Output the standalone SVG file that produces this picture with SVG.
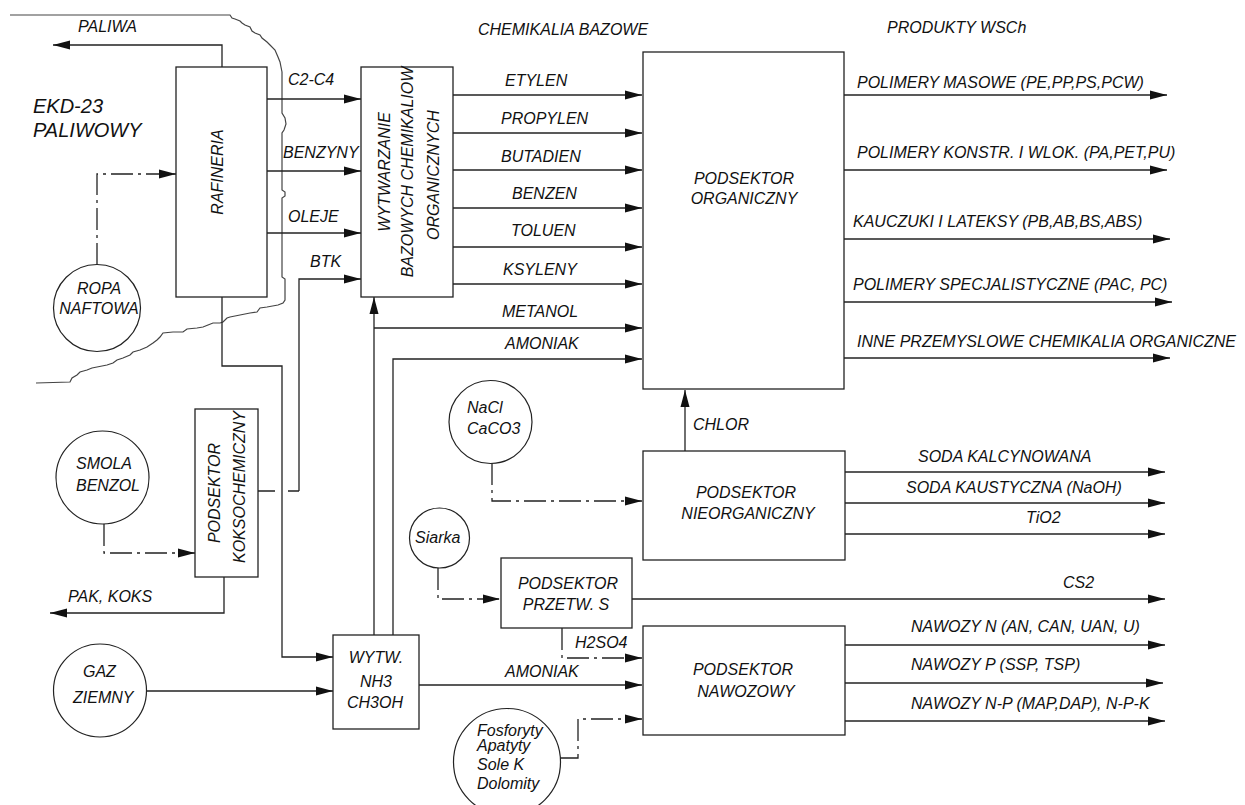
<svg xmlns="http://www.w3.org/2000/svg" width="1245" height="805" viewBox="0 0 1245 805">
<defs>
<marker id="ah" markerUnits="userSpaceOnUse" markerWidth="18" markerHeight="10" refX="17" refY="5" orient="auto"><path d="M0,0.5 L17,5 L0,9.5 z" fill="#111"/></marker>
<style>
.t{font-family:"Liberation Sans",Arial,sans-serif;font-style:italic;font-size:16px;fill:#111}
.big{font-size:20px}
.m{text-anchor:middle}
.box{fill:#fff;stroke:#222;stroke-width:1.3}
.c{fill:#fff;stroke:#222;stroke-width:1.2}
.ln{fill:none;stroke:#222;stroke-width:1.3}
.ar{marker-end:url(#ah)}
.dd{stroke-dasharray:22,5,3,5}
.bd{fill:none;stroke:#444;stroke-width:1.2}
</style>
</defs>
<rect width="1245" height="805" fill="#fff"/>

<g id="boundary">
<path class="bd" d="M10,15 H230 L232,18 235,19 240,21 242,23 245,25 250,27 252,31 255,33 260,35 262,38 267,42 270,45 275,50 278,57 280,62 281,67 282,72 282,113 285,118 286,124 284,130 282,133 282,190 285,192 285,196 282,198 282,277 285,279 285,300 283,303 278,305 267,307 260,308 257,312 250,313 240,315 230,317 227,318 223,322 220,323 213,323 208,325 203,327 197,328 187,329 183,332 173,332 163,333 160,337 157,340 153,343 147,347 140,350 133,352 130,355 123,358 117,360 113,363 107,365 97,367 92,368 87,370 80,372 77,375 72,378 70,382 36,383"/>
<text class="t big" x="33" y="113">EKD-23</text>
<text class="t big" x="33" y="137">PALIWOWY</text>
</g>

<g id="headers">
<text class="t" x="478" y="35">CHEMIKALIA BAZOWE</text>
<text class="t" x="887" y="33">PRODUKTY WSCh</text>
</g>

<g id="connectors">
<path class="ln ar" d="M222,67 V45 H53"/>
<path class="ln ar dd" d="M97,265 V174 H176"/>
<path class="ln ar" d="M267,99 H361"/>
<path class="ln ar" d="M267,171 H361"/>
<path class="ln ar" d="M267,233 H361"/>
<path class="ln" d="M258,491 H299" stroke-dasharray="17,13,12"/>
<path class="ln ar" d="M299,491 V279 H361"/>
<path class="ln ar" d="M222,297 V366 H282 V657 H333"/>
<path class="ln ar" d="M453,95 H642"/>
<path class="ln ar" d="M453,133 H642"/>
<path class="ln ar" d="M453,170 H642"/>
<path class="ln ar" d="M453,208 H642"/>
<path class="ln ar" d="M453,247 H642"/>
<path class="ln ar" d="M453,284 H642"/>
<path class="ln ar" d="M374,635 V297"/>
<path class="ln ar" d="M374,328 H642"/>
<path class="ln ar" d="M393,635 V359 H642"/>
<path class="ln ar" d="M844,95 H1167"/>
<path class="ln ar" d="M844,170 H1167"/>
<path class="ln ar" d="M844,239 H1170"/>
<path class="ln ar" d="M844,302 H1172"/>
<path class="ln ar" d="M844,358 H1170"/>
<path class="ln ar" d="M685,451 V390"/>
<path class="ln ar dd" d="M492,463 V501 H642"/>
<path class="ln ar" d="M845,472 H1165"/>
<path class="ln ar" d="M845,503 H1165"/>
<path class="ln ar" d="M845,534 H1165"/>
<path class="ln ar dd" d="M438,568 V599 H500"/>
<path class="ln ar" d="M632,599 H1165"/>
<path class="ln ar dd" d="M562,628 V658 H642"/>
<path class="ln ar" d="M419,685 H642"/>
<path class="ln ar dd" d="M560,758 H578 V719 H642"/>
<path class="ln ar" d="M845,645 H1165"/>
<path class="ln ar" d="M845,683 H1163"/>
<path class="ln ar" d="M845,721 H1165"/>
<path class="ln ar" d="M147,691 H333"/>
<path class="ln ar dd" d="M104,524 V553 H195"/>
<path class="ln ar" d="M224,577 V613 H50"/>
</g>

<g id="connector-labels">
<text class="t" x="78" y="32">PALIWA</text>
<text class="t" x="288" y="85">C2-C4</text>
<text class="t" x="283" y="158">BENZYNY</text>
<text class="t" x="288" y="222">OLEJE</text>
<text class="t" x="310" y="267">BTK</text>
<text class="t" x="505" y="86">ETYLEN</text>
<text class="t" x="501" y="124">PROPYLEN</text>
<text class="t" x="501" y="162">BUTADIEN</text>
<text class="t" x="512" y="199">BENZEN</text>
<text class="t" x="511" y="236">TOLUEN</text>
<text class="t" x="503" y="275">KSYLENY</text>
<text class="t" x="502" y="317">METANOL</text>
<text class="t" x="505" y="349">AMONIAK</text>
<text class="t" x="857" y="88">POLIMERY MASOWE (PE,PP,PS,PCW)</text>
<text class="t" x="857" y="158">POLIMERY KONSTR. I WLOK. (PA,PET,PU)</text>
<text class="t" x="853" y="227">KAUCZUKI I LATEKSY (PB,AB,BS,ABS)</text>
<text class="t" x="853" y="290">POLIMERY SPECJALISTYCZNE (PAC, PC)</text>
<text class="t" x="857" y="347">INNE PRZEMYSLOWE CHEMIKALIA ORGANICZNE</text>
<text class="t" x="693" y="430">CHLOR</text>
<text class="t" x="918" y="462">SODA KALCYNOWANA</text>
<text class="t" x="906" y="493">SODA KAUSTYCZNA (NaOH)</text>
<text class="t" x="1026" y="523">TiO2</text>
<text class="t" x="1063" y="588">CS2</text>
<text class="t" x="575" y="648">H2SO4</text>
<text class="t" x="505" y="677">AMONIAK</text>
<text class="t" x="911" y="632">NAWOZY N (AN, CAN, UAN, U)</text>
<text class="t" x="911" y="670">NAWOZY P (SSP, TSP)</text>
<text class="t" x="911" y="709">NAWOZY N-P (MAP,DAP), N-P-K</text>
<text class="t" x="68" y="602">PAK, KOKS</text>
</g>

<g id="rafineria">
<rect class="box" x="176" y="67" width="91" height="230"/>
<text class="t m" transform="translate(223,172) rotate(-90)">RAFINERIA</text>
</g>

<g id="ropa">
<circle class="c" cx="97" cy="308" r="43.5"/>
<text class="t m" x="99" y="294">ROPA</text>
<text class="t m" x="99" y="314">NAFTOWA</text>
</g>

<g id="wytwarzanie">
<rect class="box" x="361" y="67" width="92" height="230"/>
<text class="t m" transform="translate(390,172) rotate(-90)">WYTWARZANIE</text>
<text class="t m" transform="translate(413,172) rotate(-90)">BAZOWYCH CHEMIKALIOW</text>
<text class="t m" transform="translate(439,175) rotate(-90)">ORGANICZNYCH</text>
</g>

<g id="organiczny">
<rect class="box" x="643" y="52" width="201" height="337"/>
<text class="t m" x="744" y="184">PODSEKTOR</text>
<text class="t m" x="744" y="204">ORGANICZNY</text>
</g>

<g id="koksochemiczny">
<rect class="box" x="195" y="409" width="63" height="168"/>
<text class="t m" transform="translate(220,493) rotate(-90)">PODSEKTOR</text>
<text class="t m" transform="translate(245,487) rotate(-90)">KOKSOCHEMICZNY</text>
</g>

<g id="smola">
<circle class="c" cx="102.5" cy="477.5" r="46.5"/>
<text class="t" x="76" y="469">SMOLA</text>
<text class="t" x="76" y="491">BENZOL</text>
</g>

<g id="gaz">
<circle class="c" cx="100" cy="690.5" r="46.5"/>
<text class="t" x="83" y="677">GAZ</text>
<text class="t" x="73" y="703">ZIEMNY</text>
</g>

<g id="nh3">
<rect class="box" x="333" y="635" width="86" height="94"/>
<text class="t m" x="376" y="663">WYTW.</text>
<text class="t m" x="376" y="687">NH3</text>
<text class="t m" x="375" y="708">CH3OH</text>
</g>

<g id="nacl">
<circle class="c" cx="490.5" cy="422" r="41.5"/>
<text class="t" x="467" y="413">NaCl</text>
<text class="t" x="467" y="434">CaCO3</text>
</g>

<g id="nieorganiczny">
<rect class="box" x="643" y="451" width="202" height="109"/>
<text class="t m" x="746" y="498">PODSEKTOR</text>
<text class="t m" x="748" y="519">NIEORGANICZNY</text>
</g>

<g id="siarka">
<circle class="c" cx="439.5" cy="538" r="30"/>
<text class="t" x="415" y="543">Siarka</text>
</g>

<g id="przetw">
<rect class="box" x="501" y="558" width="131" height="70"/>
<text class="t m" x="568" y="589">PODSEKTOR</text>
<text class="t m" x="566" y="610">PRZETW. S</text>
</g>

<g id="nawozowy">
<rect class="box" x="643" y="626" width="202" height="109"/>
<text class="t m" x="743" y="675">PODSEKTOR</text>
<text class="t m" x="746" y="697">NAWOZOWY</text>
</g>

<g id="fosforyty">
<circle class="c" cx="507" cy="762" r="53.5"/>
<text class="t" x="477" y="736">Fosforyty</text>
<text class="t" x="477" y="751">Apatyty</text>
<text class="t" x="477" y="770">Sole K</text>
<text class="t" x="477" y="789">Dolomity</text>
</g>
</svg>
